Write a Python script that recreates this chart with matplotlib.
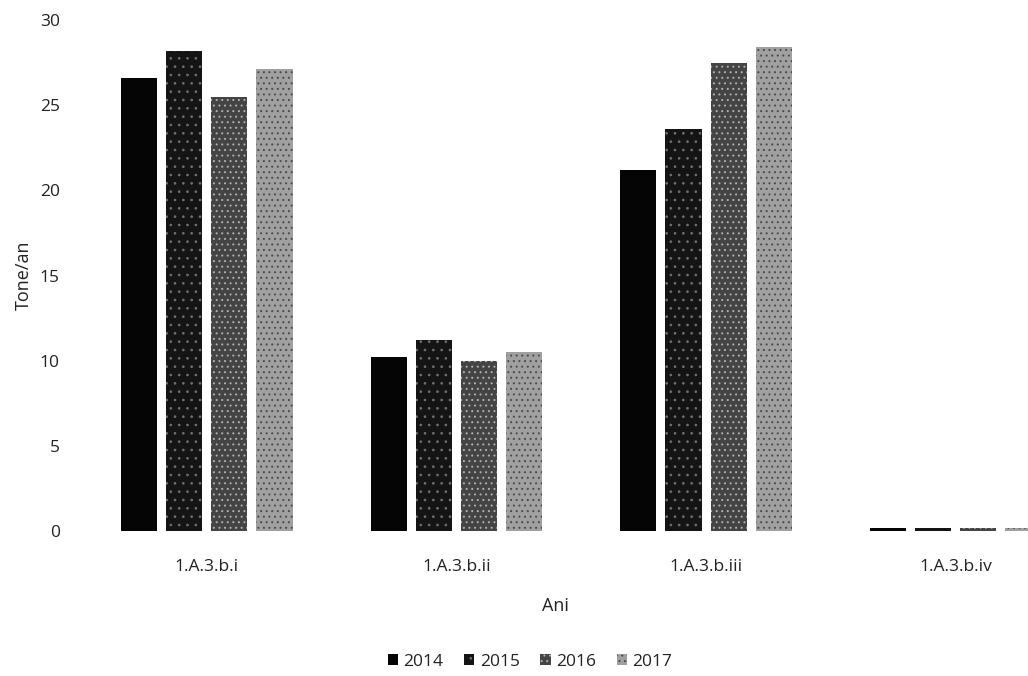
import matplotlib
matplotlib.use("Agg")
import matplotlib.pyplot as plt
import numpy as np

categories = ["1.A.3.b.i", "1.A.3.b.ii", "1.A.3.b.iii", "1.A.3.b.iv"]
years = ["2014", "2015", "2016", "2017"]
v2014 = [26.6, 10.2, 21.2, 0.2]
v2015 = [28.2, 11.2, 23.6, 0.2]
v2016 = [25.5, 10.0, 27.5, 0.15]
v2017 = [27.1, 10.5, 28.4, 0.2]
series = [v2014, v2015, v2016, v2017]

# pattern fills: solid black, speckled black, dark stipple, light stipple
fills = ["#050505", "#141414", "#444444", "#a0a0a0"]
hatch_cols = ["#050505", "#707070", "#b0b0b0", "#4a4a4a"]
hatches = [None, "..", "...", "..."]

plt.rcParams["font.family"] = ["Open Sans", "DejaVu Sans"]
plt.rcParams["hatch.linewidth"] = 0.7

fig = plt.figure(figsize=(10.28, 6.76), dpi=100)
ax = fig.add_axes([82 / 1028, 1 - 531 / 676, 1 - 82 / 1028, (531 - 20) / 676])

x = np.arange(len(categories))
width = 0.145
step = 0.181
for i, vals in enumerate(series):
    ax.bar(x + (i - 1.5) * step, vals, width, color=fills[i], hatch=hatches[i],
           edgecolor=hatch_cols[i], linewidth=0, label=years[i])

ax.set_ylim(0, 30)
ax.set_xlim(-0.5, 3.29)
ax.set_yticks(range(0, 31, 5))
ax.set_xticks(x)
ax.set_xticklabels(categories)
ax.tick_params(axis="both", length=0, labelsize=12.5, colors="#222222")
ax.tick_params(axis="y", pad=16)
ax.tick_params(axis="x", pad=20)
for s in ax.spines.values():
    s.set_visible(False)

ax.set_ylabel("Tone/an", fontsize=13, color="#222222", labelpad=5)
ax.set_xlabel("Ani", fontsize=13, color="#222222", labelpad=16)

fig.legend(loc="center", bbox_to_anchor=(530 / 1028, 1 - 662 / 676), ncol=4,
           frameon=False, fontsize=12.5, handlelength=0.6, handleheight=0.6,
           handletextpad=0.3, columnspacing=1.2, labelcolor="#222222")

fig.savefig("out.png", dpi=100, facecolor="white")
